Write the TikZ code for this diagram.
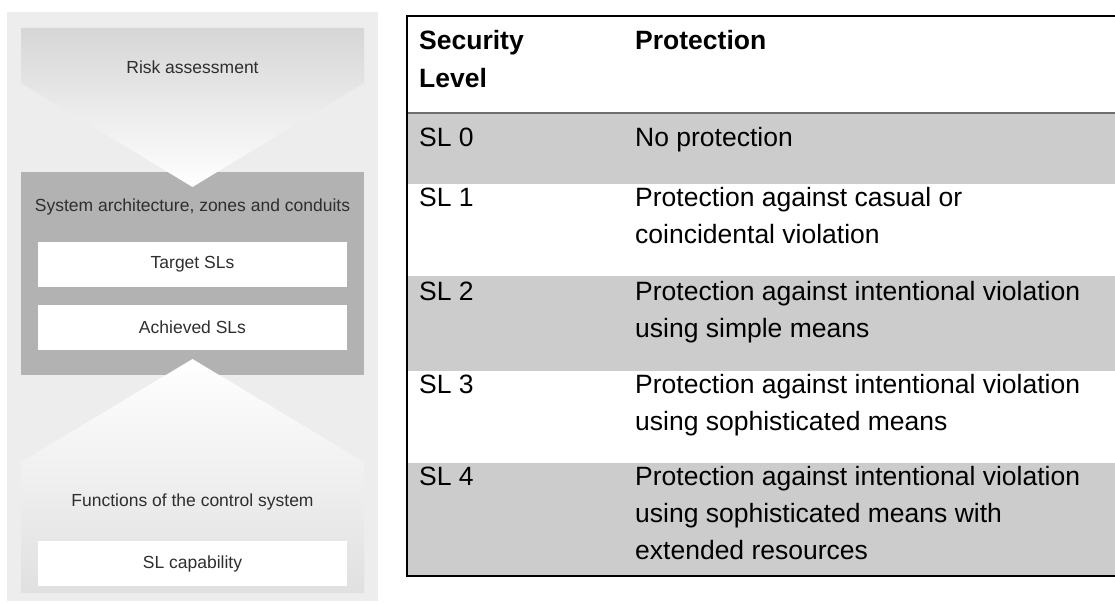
\documentclass[tikz,border=0pt]{standalone}
\usepackage{fontspec}
\setmainfont{Liberation Sans}
\definecolor{panelbg}{HTML}{EDEDED}
\definecolor{chevtop}{HTML}{D6D6D6}
\definecolor{chevbot}{HTML}{E0E0E0}
\definecolor{midgrey}{HTML}{B2B2B2}
\definecolor{paneltext}{HTML}{2E2E2E}
\definecolor{rowgrey}{HTML}{CCCCCC}
\definecolor{ruleline}{HTML}{6E6E6E}
\tikzset{
  panellabel/.style={text=paneltext, font=\fontsize{17.5}{21}\selectfont, inner sep=0pt},
  slbox/.style={fill=white, minimum width=309pt, minimum height=45pt, inner sep=0pt,
                text=paneltext, font=\fontsize{17.5}{21}\selectfont},
  cell/.style={anchor=base west, inner sep=0pt, font=\fontsize{26.5}{32}\selectfont, text=black},
  headcell/.style={cell, font=\fontsize{26.5}{32}\selectfont\bfseries},
  greyrow/.style={fill=rowgrey},
  frame/.style={line width=2pt, black},
}
\begin{document}
\begin{tikzpicture}[x=1pt,y=-1pt]
\useasboundingbox (0,0) rectangle (1115,604);
\fill[white] (0,0) rectangle (1115,604);

% ---------- left panel ----------
\fill[panelbg] (7,12) rectangle (378,601);
\fill[midgrey] (21,172) rectangle (364,375);
% downward chevron: risk assessment
\shade[top color=chevtop, bottom color=white]
  (21,28) -- (364,28) -- (364,83) -- (192.5,187) -- (21,83) -- cycle;
% upward chevron: functions of the control system
\shade[top color=white, bottom color=chevbot]
  (192.5,359) -- (364,462) -- (364,593) -- (21,593) -- (21,462) -- cycle;

\node[panellabel] (risk) at (192.5,67) {Risk assessment};
\node[panellabel] (arch) at (192.5,207) {System architecture, zones and conduits};
\node[slbox] (target) at (192.5,264.5) {Target SLs};
\node[slbox] (achieved) at (192.5,327.5) {Achieved SLs};
\node[panellabel] (func) at (192.5,502) {Functions of the control system};
\node[slbox] (capab) at (192.5,563.5) {SL capability};

% ---------- table ----------
\fill[greyrow] (407,113) rectangle (1115,184);
\fill[greyrow] (407,276) rectangle (1115,371);
\fill[greyrow] (407,463) rectangle (1115,576);
\draw[line width=2pt, ruleline] (407,113) -- (1115,113);
\draw[frame] (1115,16) -- (407,16) -- (407,576) -- (1115,576);

\node[headcell] (hsl1) at (419,50) {Security};
\node[headcell] (hsl2) at (419,88) {Level};
\node[headcell] (hprot) at (635,50) {Protection};

\node[cell] (sl0) at (419,147) {SL 0};
\node[cell] (p0) at (635,147) {No protection};

\node[cell] (sl1) at (419,206) {SL 1};
\node[cell] (p1a) at (635,206) {Protection against casual or};
\node[cell] (p1b) at (635,243) {coincidental violation};

\node[cell] (sl2) at (419,300) {SL 2};
\node[cell] (p2a) at (635,300) {Protection against intentional violation};
\node[cell] (p2b) at (635,337) {using simple means};

\node[cell] (sl3) at (419,393) {SL 3};
\node[cell] (p3a) at (635,393) {Protection against intentional violation};
\node[cell] (p3b) at (635,430) {using sophisticated means};

\node[cell] (sl4) at (419,485) {SL 4};
\node[cell] (p4a) at (635,485) {Protection against intentional violation};
\node[cell] (p4b) at (635,522) {using sophisticated means with};
\node[cell] (p4c) at (635,559) {extended resources};
\end{tikzpicture}
\end{document}
